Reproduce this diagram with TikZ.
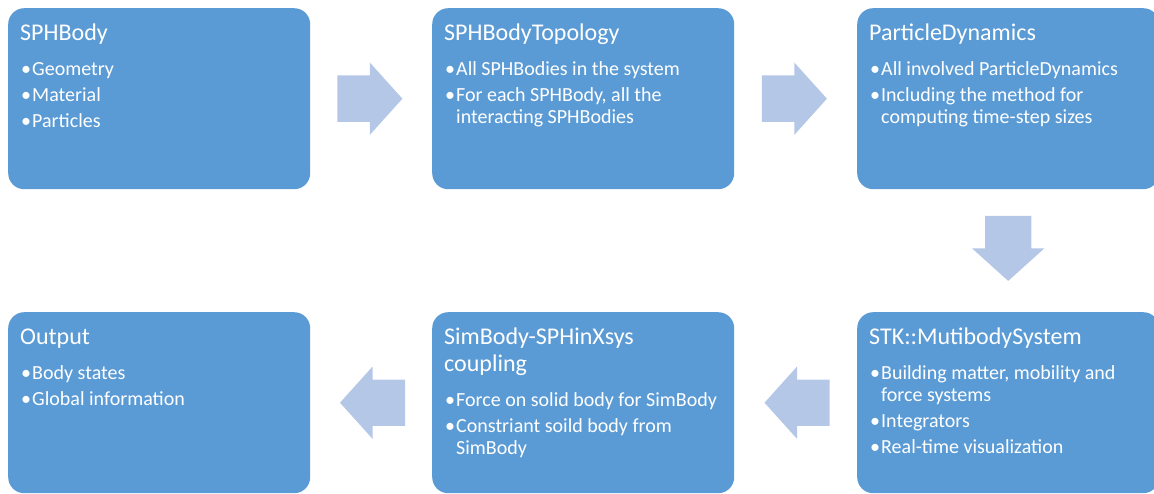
\documentclass[tikz,border=0pt]{standalone}
\usepackage{fontspec}
\setmainfont{Carlito}
\usetikzlibrary{shapes.arrows,calc}
\definecolor{blkblue}{RGB}{91,155,213}
\definecolor{arrblue}{RGB}{180,199,231}
\newcommand{\blkbody}[2]{\parbox[c][181pt][t]{278pt}{\raggedright\hyphenpenalty=10000
\fontsize{24}{27}\selectfont\rule{0pt}{32pt}#1\par\vspace{9pt}\fontsize{20}{22}\selectfont#2}}
\newcommand{\blkitem}[1]{\par\vspace{4pt}\noindent\hangindent=12pt\hangafter=1\makebox[12pt][l]{\kern1pt\textbullet}#1}
\begin{document}
\begin{tikzpicture}[x=1pt,y=-1pt,
  blk/.style={anchor=north west,fill=blkblue,text=white,rounded corners=16pt,
    inner xsep=12pt,inner ysep=0pt,minimum width=302pt,minimum height=181pt},
  arr/.style={single arrow,fill=arrblue,inner xsep=0pt,inner ysep=23pt,anchor=tail,
    single arrow head extend=13pt,single arrow tip angle=96,minimum height=65pt}]
\useasboundingbox (0,0) rectangle (1154,494);
\node[blk] (sph) at (8,8) {\blkbody{SPHBody}{\blkitem{Geometry}\blkitem{Material}\blkitem{Particles}}};
\node[blk] (topo) at (432,8) {\blkbody{SPHBodyTopology}{\blkitem{All SPHBodies in the system}\blkitem{For each SPHBody, all the\newline interacting SPHBodies}}};
\node[blk] (dyn) at (857,8) {\blkbody{ParticleDynamics}{\blkitem{All involved ParticleDynamics}\blkitem{Including the method for\newline computing time-step sizes}}};
\node[blk] (stk) at (857,312) {\blkbody{STK::MutibodySystem}{\blkitem{Building matter, mobility and\newline force systems}\blkitem{Integrators}\blkitem{Real-time visualization}}};
\node[blk] (coup) at (432,312) {\blkbody{SimBody-SPHinXsys\newline coupling}{\blkitem{Force on solid body for SimBody}\blkitem{Constriant soild body from\newline SimBody}}};
\node[blk] (outp) at (8,312) {\blkbody{Output}{\blkitem{Body states}\blkitem{Global information}}};
\node[arr] (a1) at ($(sph.east)!0.5!(topo.west)+(-34,0)$) {};
\node[arr] (a2) at ($(topo.east)!0.5!(dyn.west)+(-34,0)$) {};
\node[arr,rotate=-90] (a3) at ($(dyn.south)!0.5!(stk.north)+(0,-35)$) {};
\node[arr,rotate=180] (a4) at ($(stk.west)!0.5!(coup.east)+(34,0)$) {};
\node[arr,rotate=180] (a5) at ($(coup.west)!0.5!(outp.east)+(34,0)$) {};
\end{tikzpicture}
\end{document}
